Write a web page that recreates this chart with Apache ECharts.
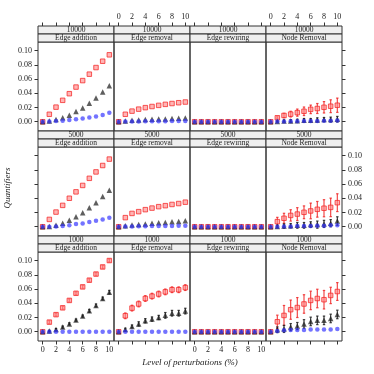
<!DOCTYPE html>
<html>
<head>
<meta charset="utf-8">
<script src="https://cdn.jsdelivr.net/npm/echarts@6/dist/echarts.min.js"></script>
<style>
  html, body { margin: 0; padding: 0; background: #fff; }
  #chart { width: 374px; height: 374px; }
</style>
</head>
<body>
<div id="chart"></div>
<script>
// x values and tick labels
var levels = [0, 1, 2, 3, 4, 5, 6, 7, 8, 9, 10];
var xTicks = [0, 2, 4, 6, 8, 10];
var yTicks = [0, 0.02, 0.04, 0.06, 0.08, 0.10];
var sizes = ['10000', '5000', '1000'];
var perturbations = ['Edge addition', 'Edge removal', 'Edge rewiring', 'Node Removal'];

// ---- size 10000 ----
var add10000Red = [0, 0.0105, 0.0205, 0.0301, 0.0394, 0.0487, 0.0578, 0.0668, 0.0761, 0.085, 0.094];
var add10000Black = [0, 0.001, 0.003, 0.0056, 0.0092, 0.0143, 0.0194, 0.026, 0.0333, 0.0418, 0.0505];
var add10000Blue = [0, 0.0003, 0.001, 0.0015, 0.0025, 0.0035, 0.0045, 0.006, 0.0075, 0.0095, 0.0125];
var rem10000Red = [0, 0.0105, 0.0149, 0.0177, 0.0198, 0.0214, 0.023, 0.0244, 0.0256, 0.0267, 0.0277];
var rem10000Black = [0, 0.001, 0.002, 0.0025, 0.003, 0.0035, 0.004, 0.004, 0.0045, 0.005, 0.0052];
var rem10000Blue = [0, 0.0003, 0.0005, 0.0005, 0.0006, 0.0007, 0.0008, 0.0008, 0.0009, 0.001, 0.001];
var rew10000Red = [0, 0, 0, 0, 0, 0, 0, 0, 0, 0, 0];
var rew10000Black = [0, 0, 0, 0, 0, 0, 0, 0, 0, 0, 0];
var rew10000Blue = [0, 0, 0, 0, 0, 0, 0, 0, 0, 0, 0];
var node10000Red = [0, 0.0056, 0.0088, 0.0107, 0.0128, 0.0147, 0.0174, 0.0186, 0.0203, 0.0218, 0.0232];
var node10000RedErr = [0, 0.0015, 0.003, 0.004, 0.005, 0.006, 0.006, 0.007, 0.008, 0.009, 0.010];
var node10000Black = [0, 0.0005, 0.001, 0.001, 0.0015, 0.002, 0.002, 0.0025, 0.003, 0.003, 0.0035];
var node10000BlackErr = [0, 0.001, 0.0015, 0.002, 0.002, 0.0025, 0.0025, 0.003, 0.003, 0.0035, 0.004];
var node10000Blue = [0, 0.0003, 0.0005, 0.0007, 0.0008, 0.001, 0.001, 0.0012, 0.0013, 0.0015, 0.0017];

// ---- size 5000 ----
var add5000Red = [0, 0.0103, 0.0206, 0.030, 0.040, 0.049, 0.058, 0.068, 0.077, 0.086, 0.095];
var add5000Black = [0, 0.0005, 0.002, 0.005, 0.009, 0.014, 0.0196, 0.0266, 0.0336, 0.0425, 0.0514];
var add5000Blue = [0, 0, 0.0005, 0.001, 0.002, 0.0037, 0.0047, 0.0065, 0.0084, 0.0103, 0.0126];
var rem5000Red = [0, 0.0128, 0.0187, 0.0212, 0.024, 0.0262, 0.0282, 0.0296, 0.0313, 0.0326, 0.0345];
var rem5000Black = [0, 0.0014, 0.0023, 0.003, 0.004, 0.005, 0.0056, 0.006, 0.007, 0.0075, 0.0084];
var rem5000Blue = [0, 0.0003, 0.0005, 0.0007, 0.0008, 0.001, 0.001, 0.0012, 0.0012, 0.0013, 0.0015];
var rew5000Red = [0, 0, 0, 0, 0, 0, 0, 0, 0, 0, 0];
var rew5000Black = [0, 0, 0, 0, 0, 0, 0, 0, 0, 0, 0];
var rew5000Blue = [0, 0, 0, 0, 0, 0, 0, 0, 0, 0, 0];
var node5000Red = [0, 0.0072, 0.0119, 0.0159, 0.0178, 0.0203, 0.0222, 0.0245, 0.026, 0.0272, 0.0338];
var node5000RedErr = [0, 0.006, 0.007, 0.008, 0.009, 0.009, 0.011, 0.011, 0.012, 0.013, 0.0125];
var node5000Black = [0, 0.0005, 0.001, 0.0015, 0.002, 0.002, 0.003, 0.003, 0.004, 0.005, 0.008];
var node5000BlackErr = [0, 0.002, 0.003, 0.003, 0.004, 0.004, 0.004, 0.005, 0.005, 0.005, 0.006];
var node5000Blue = [0, 0, 0.0005, 0.0005, 0.001, 0.001, 0.001, 0.0015, 0.0015, 0.002, 0.002];

// ---- size 1000 ----
var add1000Red = [0, 0.0135, 0.024, 0.0336, 0.044, 0.054, 0.063, 0.0724, 0.081, 0.091, 0.100];
var add1000RedErr = [0, 0.002, 0.002, 0.002, 0.002, 0.002, 0.002, 0.002, 0.002, 0.002, 0.002];
var add1000Black = [0, 0.001, 0.003, 0.0065, 0.011, 0.0164, 0.022, 0.0294, 0.037, 0.0467, 0.0556];
var add1000BlackErr = [0, 0.001, 0.0015, 0.0015, 0.0015, 0.0015, 0.0015, 0.002, 0.002, 0.002, 0.0025];
var add1000Blue = [0, 0, 0, 0, 0, 0, 0, 0, 0, 0, 0];
var rem1000Red = [0, 0.0224, 0.0332, 0.039, 0.0467, 0.050, 0.053, 0.056, 0.059, 0.059, 0.062];
var rem1000RedErr = [0, 0.004, 0.004, 0.004, 0.004, 0.004, 0.004, 0.004, 0.004, 0.004, 0.004];
var rem1000Black = [0, 0.003, 0.0075, 0.011, 0.0154, 0.0178, 0.020, 0.023, 0.026, 0.026, 0.029];
var rem1000BlackErr = [0, 0.002, 0.002, 0.003, 0.003, 0.003, 0.003, 0.004, 0.004, 0.004, 0.004];
var rem1000Blue = [0, 0, 0, 0, 0, 0, 0, 0, 0, 0, 0];
var rew1000Red = [0, 0, 0, 0, 0, 0, 0, 0, 0, 0, 0];
var rew1000Black = [0, 0, 0, 0, 0, 0, 0, 0, 0, 0, 0];
var rew1000Blue = [0, 0, 0, 0, 0, 0, 0, 0, 0, 0, 0];
var node1000Red = [0, 0.014, 0.0229, 0.031, 0.034, 0.039, 0.044, 0.0467, 0.045, 0.051, 0.0565];
var node1000RedErr = [0, 0.0093, 0.014, 0.0135, 0.014, 0.013, 0.013, 0.013, 0.013, 0.0115, 0.0125];
var node1000Black = [0, 0.0028, 0.004, 0.0065, 0.008, 0.011, 0.0145, 0.016, 0.016, 0.0187, 0.0243];
var node1000BlackErr = [0, 0.004, 0.005, 0.005, 0.005, 0.006, 0.006, 0.006, 0.006, 0.006, 0.006];
var node1000Blue = [0, 0.001, 0.002, 0.0023, 0.0025, 0.0025, 0.003, 0.003, 0.003, 0.003, 0.0037];

// panels, row by row (size) and column by column (perturbation)
var panels = [
    [
        {red: add10000Red, black: add10000Black, blue: add10000Blue},
        {red: rem10000Red, black: rem10000Black, blue: rem10000Blue},
        {red: rew10000Red, black: rew10000Black, blue: rew10000Blue},
        {red: node10000Red, redErr: node10000RedErr, black: node10000Black, blackErr: node10000BlackErr, blue: node10000Blue}
    ],
    [
        {red: add5000Red, black: add5000Black, blue: add5000Blue},
        {red: rem5000Red, black: rem5000Black, blue: rem5000Blue},
        {red: rew5000Red, black: rew5000Black, blue: rew5000Blue},
        {red: node5000Red, redErr: node5000RedErr, black: node5000Black, blackErr: node5000BlackErr, blue: node5000Blue}
    ],
    [
        {red: add1000Red, redErr: add1000RedErr, black: add1000Black, blackErr: add1000BlackErr, blue: add1000Blue},
        {red: rem1000Red, redErr: rem1000RedErr, black: rem1000Black, blackErr: rem1000BlackErr, blue: rem1000Blue},
        {red: rew1000Red, black: rew1000Black, blue: rew1000Blue},
        {red: node1000Red, redErr: node1000RedErr, black: node1000Black, blackErr: node1000BlackErr, blue: node1000Blue}
    ]
];

// layout
var colLeft = [38, 114, 190, 266];
var panelW = 76;
var rowTop = [26, 131, 236];
var stripH = 8;
var plotH = 89;
var font = 'Liberation Serif';
var ink = '#333';

function errorBars(xi, yi, vals, errs, color) {
    return {
        type: 'custom',
        xAxisIndex: xi,
        yAxisIndex: yi,
        silent: true,
        data: levels.map(function (x, i) { return [x, vals[i], errs[i]]; }),
        renderItem: function (params, api) {
            var x = api.value(0), y = api.value(1), e = api.value(2);
            if (!e) return null;
            var hi = api.coord([x, y + e]), lo = api.coord([x, y - e]);
            var st = {stroke: color, lineWidth: 1.2};
            return {
                type: 'group',
                children: [
                    {type: 'line', shape: {x1: hi[0], y1: hi[1], x2: lo[0], y2: lo[1]}, style: st},
                    {type: 'line', shape: {x1: hi[0] - 1.2, y1: hi[1], x2: hi[0] + 1.2, y2: hi[1]}, style: st},
                    {type: 'line', shape: {x1: lo[0] - 1.2, y1: lo[1], x2: lo[0] + 1.2, y2: lo[1]}, style: st}
                ]
            };
        }
    };
}

function points(xi, yi, vals, symbol, size, style) {
    return {
        type: 'scatter',
        xAxisIndex: xi,
        yAxisIndex: yi,
        symbol: symbol,
        symbolSize: size,
        silent: true,
        itemStyle: style,
        data: levels.map(function (x, i) { return [x, vals[i]]; })
    };
}

function xAxis(g, pos, showAxis, showLabel, offset) {
    return {
        type: 'value', gridIndex: g, position: pos, offset: offset || 0,
        min: -0.7, max: 10.7, show: showAxis,
        axisLine: {show: false, onZero: false}, splitLine: {show: false},
        axisTick: {show: true, length: 3.5, customValues: xTicks, lineStyle: {color: ink, width: 1}},
        axisLabel: {show: showLabel, customValues: xTicks, margin: 5, fontFamily: font, fontSize: 8, color: '#222'}
    };
}

function yAxis(g, pos, showAxis, showLabel) {
    return {
        type: 'value', gridIndex: g, position: pos,
        min: -0.013, max: 0.112, show: showAxis,
        axisLine: {show: false, onZero: false}, splitLine: {show: false},
        axisTick: {show: true, length: 3.5, customValues: yTicks, lineStyle: {color: ink, width: 1}},
        axisLabel: {show: showLabel, customValues: yTicks, margin: 6, fontFamily: font, fontSize: 8, color: '#222',
            formatter: function (v) { return v.toFixed(2); }}
    };
}

function buildOption() {
    var grids = [], xAxes = [], yAxes = [], series = [], graphics = [];
    for (var r = 0; r < 3; r++) {
        for (var c = 0; c < 4; c++) {
            var g = grids.length;
            var px = colLeft[c], py = rowTop[r];
            grids.push({left: px, top: py + 2 * stripH, width: panelW, height: plotH,
                outerBoundsMode: 'none', containLabel: false,
                show: true, borderColor: ink, borderWidth: 1, backgroundColor: 'transparent'});

            // bottom x axis (drawn on last row only), top x axis on first row above the strips
            var xi = xAxes.length;
            xAxes.push(xAxis(g, 'bottom', r === 2, c % 2 === 0));
            if (r === 0) xAxes.push(xAxis(g, 'top', true, c % 2 === 1, 2 * stripH));

            var yi = yAxes.length;
            yAxes.push(yAxis(g, 'left', c === 0, r !== 1));
            if (c === 3) yAxes.push(yAxis(g, 'right', true, r === 1));

            var p = panels[r][c];
            if (p.redErr) series.push(errorBars(xi, yi, p.red, p.redErr, 'rgba(240,40,40,0.85)'));
            series.push(points(xi, yi, p.red, 'rect', 4.5,
                {color: 'rgba(255,140,140,0.8)', borderColor: 'rgba(245,40,40,0.95)', borderWidth: 1}));
            if (p.blackErr) series.push(errorBars(xi, yi, p.black, p.blackErr, 'rgba(30,30,30,0.85)'));
            series.push(points(xi, yi, p.black, 'triangle', 5.5, {color: 'rgba(25,25,25,0.88)'}));
            series.push(points(xi, yi, p.blue, 'circle', 4.5, {color: 'rgba(50,50,255,0.85)'}));

            // strips: size on top, perturbation below
            var labels = [sizes[r], perturbations[c]];
            for (var s = 0; s < 2; s++) {
                graphics.push({
                    type: 'rect', silent: true,
                    shape: {x: px, y: py + s * stripH, width: panelW, height: stripH},
                    style: {fill: '#efefef', stroke: ink, lineWidth: 1}
                });
                graphics.push({
                    type: 'text', silent: true,
                    x: px + panelW / 2, y: py + s * stripH + stripH / 2 + 0.5,
                    style: {text: labels[s], font: '7.5px "Liberation Serif"', fill: '#222',
                        align: 'center', verticalAlign: 'middle'}
                });
            }
        }
    }

    graphics.push({
        type: 'text', silent: true, x: 8, y: 188, rotation: Math.PI / 2,
        style: {text: 'Quantifiers', font: 'italic 9px "Liberation Serif"', fill: '#222',
            align: 'center', verticalAlign: 'middle'}
    });
    graphics.push({
        type: 'text', silent: true, x: 190, y: 363,
        style: {text: 'Level of perturbations (%)', font: 'italic 9px "Liberation Serif"', fill: '#222',
            align: 'center', verticalAlign: 'middle'}
    });

    return {
        animation: false,
        backgroundColor: '#fff',
        grid: grids,
        xAxis: xAxes,
        yAxis: yAxes,
        series: series,
        graphic: graphics
    };
}

var chart = echarts.init(document.getElementById('chart'), null, {renderer: 'canvas'});
chart.setOption(buildOption());
</script>
</body>
</html>
